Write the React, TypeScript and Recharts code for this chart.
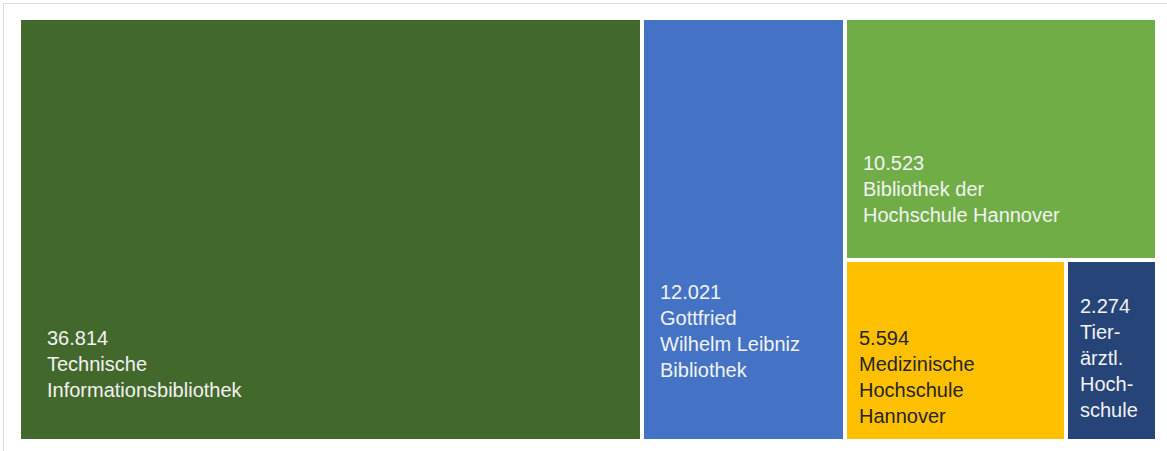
import { Treemap } from 'recharts'

// Bestand je Bibliothek (Hannover)
const libraries = [
  'Technische Informationsbibliothek',
  'Gottfried Wilhelm Leibniz Bibliothek',
  'Bibliothek der Hochschule Hannover',
  'Medizinische Hochschule Hannover',
  'Tierärztliche Hochschule',
]
const holdings = [36814, 12021, 10523, 5594, 2274]
const labelLines = [
  ['Technische', 'Informationsbibliothek'],
  ['Gottfried', 'Wilhelm Leibniz', 'Bibliothek'],
  ['Bibliothek der', 'Hochschule Hannover'],
  ['Medizinische', 'Hochschule', 'Hannover'],
  ['Tier-', 'ärztl.', 'Hoch-', 'schule'],
]

const colors = ['#43682b', '#4472c4', '#70ad47', '#ffc000', '#264478']
const textColors = ['#f2f2f2', '#f2f2f2', '#f2f2f2', '#262626', '#f2f2f2']
// where the label block starts inside each tile (first baseline)
const labelOffsets = [
  { dx: 28, dy: 327 },
  { dx: 18, dy: 281 },
  { dx: 18, dy: 152 },
  { dx: 14, dy: 85 },
  { dx: 14, dy: 53 },
]

const formatDe = (n: number) => String(n).replace(/\B(?=(\d{3})+(?!\d))/g, '.')

const data = libraries.map((name, i) => ({ name, size: holdings[i], idx: i }))

function Tile(props: any) {
  const { x, y, width, height, depth, idx } = props
  if (depth !== 1 || idx === undefined) return null
  const off = labelOffsets[idx]
  const lines = [formatDe(holdings[idx]), ...labelLines[idx]]
  return (
    <g>
      <rect x={x} y={y} width={width} height={height} fill={colors[idx]} stroke="#ffffff" strokeWidth={4} />
      <text
        x={x + off.dx}
        y={y + off.dy}
        fill={textColors[idx]}
        fontSize={20}
        fontFamily="'Liberation Sans', Arial, sans-serif"
      >
        {lines.map((line, i) => (
          <tspan key={i} x={x + off.dx} dy={i === 0 ? 0 : 26}>
            {line}
          </tspan>
        ))}
      </text>
    </g>
  )
}

export default function App() {
  return (
    <div
      style={{
        position: 'absolute',
        left: 0,
        top: 0,
        width: 1167,
        height: 451,
        overflow: 'hidden',
        background: '#ffffff',
      }}
    >
      <div
        style={{
          position: 'absolute',
          left: 3,
          top: 3,
          width: 1200,
          height: 500,
          borderTop: '1px solid #d9d9d9',
          borderLeft: '1px solid #d9d9d9',
        }}
      />
      <div style={{ position: 'absolute', left: 19, top: 18 }}>
        <Treemap
          width={1138}
          height={423}
          data={data}
          dataKey="size"
          nameKey="name"
          aspectRatio={0.9}
          isAnimationActive={false}
          content={<Tile />}
        />
      </div>
    </div>
  )
}
